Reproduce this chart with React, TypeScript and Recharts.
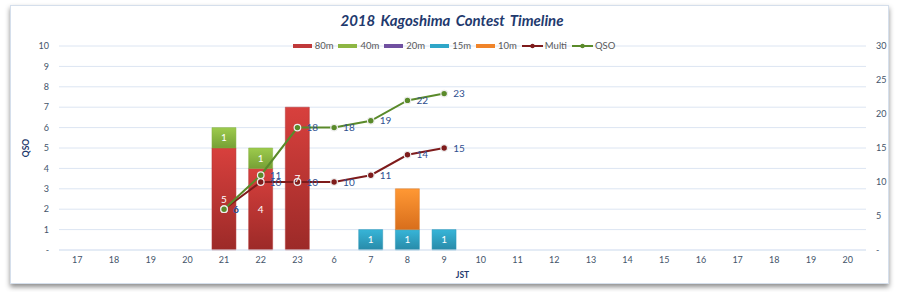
import React from 'react';
import { ComposedChart, Bar, Line, XAxis, YAxis, CartesianGrid, LabelList, Legend } from 'recharts';

const hours = ['17', '18', '19', '20', '21', '22', '23', '6', '7', '8', '9', '10', '11', '12', '13', '14', '15', '16', '17', '18', '19', '20'];
const band80 = [null, null, null, null, 5, 4, 7, null, null, null, null, null, null, null, null, null, null, null, null, null, null, null];
const band40 = [null, null, null, null, 1, 1, null, null, null, null, null, null, null, null, null, null, null, null, null, null, null, null];
const band20 = [null, null, null, null, null, null, null, null, null, null, null, null, null, null, null, null, null, null, null, null, null, null];
const band15 = [null, null, null, null, null, null, null, null, 1, 1, 1, null, null, null, null, null, null, null, null, null, null, null];
const band10 = [null, null, null, null, null, null, null, null, null, 2, null, null, null, null, null, null, null, null, null, null, null, null];
const multi = [null, null, null, null, 6, 10, 10, 10, 11, 14, 15, null, null, null, null, null, null, null, null, null, null, null];
const qso = [null, null, null, null, 6, 11, 18, 18, 19, 22, 23, null, null, null, null, null, null, null, null, null, null, null];
const leftTicks = [0, 1, 2, 3, 4, 5, 6, 7, 8, 9, 10];
const rightTicks = [0, 5, 10, 15, 20, 25, 30];

const data = hours.map((h, i) => ({
  slot: String(i),
  hour: h,
  b80: band80[i],
  b40: band40[i],
  b20: band20[i],
  b15: band15[i],
  b10: band10[i],
  multi: multi[i],
  qso: qso[i],
}));

const FONT = 'Lato, "Open Sans", sans-serif';
const TICK = '#44546A';
const LABEL_BLUE = '#2F4F8F';
const MULTI = '#7E1B1B';
const QSO = '#5A8A2A';

const legendItems = [
  { name: '80m', color: '#C0393A', type: 'bar' },
  { name: '40m', color: '#8DB643', type: 'bar' },
  { name: '20m', color: '#7050A0', type: 'bar' },
  { name: '15m', color: '#2FA6C8', type: 'bar' },
  { name: '10m', color: '#F0842A', type: 'bar' },
  { name: 'Multi', color: MULTI, type: 'line' },
  { name: 'QSO', color: QSO, type: 'line' },
];

const renderLegend = () => (
  <div style={{ display: 'flex', justifyContent: 'center', gap: 5, fontFamily: FONT, fontSize: 9.5, color: '#595959', paddingLeft: 8 }}>
    {legendItems.map((it) => (
      <div key={it.name} style={{ display: 'flex', alignItems: 'center' }}>
        {it.type === 'bar' ? (
          <div style={{ width: 19, height: 4, background: it.color, marginRight: 3 }} />
        ) : (
          <svg width={21} height={6} style={{ marginRight: 2 }}>
            <line x1={0} y1={3} x2={21} y2={3} stroke={it.color} strokeWidth={2} />
            <circle cx={10.5} cy={3} r={2.2} fill={it.color} />
          </svg>
        )}
        <span>{it.name}</span>
      </div>
    ))}
  </div>
);

const zeroDash = (v: number) => (v === 0 ? '-' : String(v));

export default function App() {
  return (
    <div style={{ position: 'absolute', left: 0, top: 0, width: 900, height: 292, background: '#fff', overflow: 'hidden' }}>
      <div
        style={{
          position: 'absolute',
          left: 10,
          top: 5,
          width: 877,
          height: 277,
          border: '1px solid #D5DFEC',
          boxShadow: '0 3px 5px rgba(0,0,0,0.45)',
          background: '#fff',
        }}
      />
      <div
        style={{
          position: 'absolute',
          left: 0,
          top: 11,
          width: 904,
          textAlign: 'center',
          fontFamily: FONT,
          fontWeight: 700,
          fontStyle: 'italic',
          fontSize: 15,
          color: '#1F3A6E',
          wordSpacing: 2,
        }}
      >
        2018 Kagoshima Contest Timeline
      </div>
      <div style={{ position: 'absolute', left: 0, top: 0 }}>
        <ComposedChart
          width={900}
          height={292}
          data={data}
          margin={{ top: 35, right: 0, bottom: 12, left: 0 }}
          barCategoryGap="17%"
        >
          <defs>
            <linearGradient id="g80" x1="0" y1="0" x2="0" y2="1">
              <stop offset="0%" stopColor="#D8403D" />
              <stop offset="100%" stopColor="#9C2A28" />
            </linearGradient>
            <linearGradient id="g40" x1="0" y1="0" x2="0" y2="1">
              <stop offset="0%" stopColor="#9DCB4D" />
              <stop offset="100%" stopColor="#76A035" />
            </linearGradient>
            <linearGradient id="g20" x1="0" y1="0" x2="0" y2="1">
              <stop offset="0%" stopColor="#8A6CB0" />
              <stop offset="100%" stopColor="#5E4585" />
            </linearGradient>
            <linearGradient id="g15" x1="0" y1="0" x2="0" y2="1">
              <stop offset="0%" stopColor="#37B5D8" />
              <stop offset="100%" stopColor="#288AA8" />
            </linearGradient>
            <linearGradient id="g10" x1="0" y1="0" x2="0" y2="1">
              <stop offset="0%" stopColor="#FF9834" />
              <stop offset="100%" stopColor="#D86E1C" />
            </linearGradient>
          </defs>
          <CartesianGrid yAxisId="left" vertical={false} stroke="#DCE5F2" strokeWidth={1} />
          <XAxis
            dataKey="slot"
            type="category"
            tickFormatter={(v: string) => hours[Number(v)]}
            interval={0}
            axisLine={{ stroke: '#DCE5F2' }}
            tickLine={false}
            tickSize={6}
            tickMargin={1}
            height={30}
            tick={{ fontSize: 9, fill: TICK, fontFamily: FONT }}
            label={{ value: 'JST', position: 'insideBottom', offset: 2, style: { fontSize: 8.5, fontWeight: 700, fill: '#1F3A6E', fontFamily: FONT } }}
          />
          <YAxis
            yAxisId="left"
            orientation="left"
            domain={[0, 10]}
            ticks={leftTicks}
            interval={0}
            width={59}
            axisLine={false}
            tickLine={false}
            tickMargin={4}
            tickFormatter={zeroDash}
            tick={{ fontSize: 9, fill: TICK, fontFamily: FONT }}
            label={{ value: 'QSO', angle: -90, position: 'insideLeft', offset: 26, style: { fontSize: 8.5, fontWeight: 700, fill: '#1F3A6E', fontFamily: FONT, textAnchor: 'middle' } }}
          />
          <YAxis
            yAxisId="right"
            orientation="right"
            domain={[0, 30]}
            ticks={rightTicks}
            interval={0}
            width={34}
            axisLine={false}
            tickLine={false}
            tickMargin={4}
            tickFormatter={zeroDash}
            tick={{ fontSize: 9, fill: TICK, fontFamily: FONT }}
          />
          <Legend verticalAlign="top" content={renderLegend} wrapperStyle={{ top: 40, left: 0, width: 900 }} />
          <Bar yAxisId="left" dataKey="b80" name="80m" stackId="a" fill="url(#g80)" stroke="#B23434" strokeWidth={0.5} isAnimationActive={false}>
            <LabelList dataKey="b80" position="center" fill="#fff" fontSize={10} fontFamily={FONT} />
          </Bar>
          <Bar yAxisId="left" dataKey="b40" name="40m" stackId="a" fill="url(#g40)" stroke="#86B040" strokeWidth={0.5} isAnimationActive={false}>
            <LabelList dataKey="b40" position="center" fill="#fff" fontSize={10} fontFamily={FONT} />
          </Bar>
          <Bar yAxisId="left" dataKey="b20" name="20m" stackId="a" fill="url(#g20)" isAnimationActive={false} />
          <Bar yAxisId="left" dataKey="b15" name="15m" stackId="a" fill="url(#g15)" stroke="#2B97B8" strokeWidth={0.5} isAnimationActive={false}>
            <LabelList dataKey="b15" position="center" fill="#fff" fontSize={10} fontFamily={FONT} />
          </Bar>
          <Bar yAxisId="left" dataKey="b10" name="10m" stackId="a" fill="url(#g10)" stroke="#E07E2A" strokeWidth={0.5} isAnimationActive={false} />
          <Line
            yAxisId="right"
            dataKey="multi"
            name="Multi"
            stroke={MULTI}
            strokeWidth={2}
            dot={{ r: 3.3, fill: MULTI, stroke: '#EDEDED', strokeWidth: 1.2 }}
            isAnimationActive={false}
          >
            <LabelList dataKey="multi" position="right" offset={9} fill={LABEL_BLUE} fontSize={10} fontFamily={FONT} />
          </Line>
          <Line
            yAxisId="right"
            dataKey="qso"
            name="QSO"
            stroke={QSO}
            strokeWidth={2}
            dot={{ r: 3.3, fill: QSO, stroke: '#EDEDED', strokeWidth: 1.2 }}
            isAnimationActive={false}
          >
            <LabelList dataKey="qso" position="right" offset={9} fill={LABEL_BLUE} fontSize={10} fontFamily={FONT} />
          </Line>
        </ComposedChart>
      </div>
    </div>
  );
}
